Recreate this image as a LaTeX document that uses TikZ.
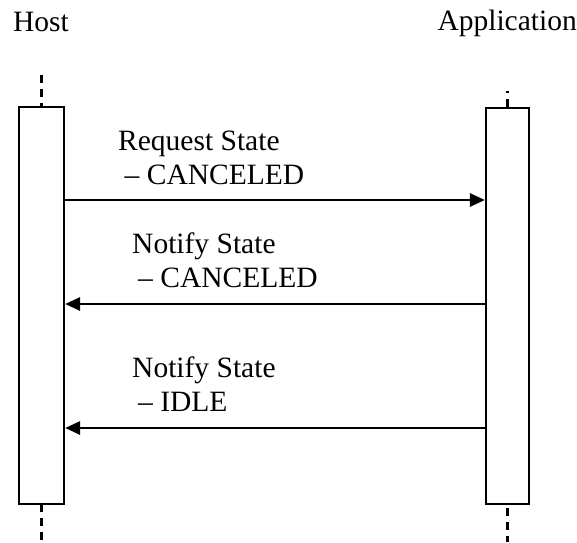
\documentclass[tikz,border=0pt]{standalone}
\usepackage{fontspec}
\setmainfont{Liberation Serif}
\usetikzlibrary{arrows.meta}
\begin{document}
\begin{tikzpicture}[x=1pt,y=-1pt,
  bar/.style={draw=black,line width=2.2pt,fill=white,inner sep=0pt},
  life/.style={line width=2.2pt,dash pattern=on 8pt off 6pt},
  msg/.style={line width=2.8pt,-{Triangle[length=15pt,width=13pt]}},
  lbl/.style={anchor=base west,inner sep=0pt,font=\fontsize{29.5}{34}\selectfont}]
\useasboundingbox (0,0) rectangle (577,542);
% headers
\node[lbl] (host) at (13,31) {Host};
\node[lbl,anchor=base east] (app) at (577,30) {Application};
% lifelines
\coordinate (htop) at (41.5,75);
\coordinate (hbot) at (41.5,542);
\coordinate (atop) at (507.5,91);
\coordinate (abot) at (507.5,542);
\draw[life] (htop) -- (41.5,107);
\draw[life,dash phase=6pt] (atop) -- (507.5,108);
\draw[life] (41.5,504) -- (hbot);
\draw[life,dash phase=10pt] (507.5,504) -- (abot);
% activation bars
\node[bar,minimum width=45pt,minimum height=397pt] (hbar) at (41.5,305.5) {};
\node[bar,minimum width=43pt,minimum height=396pt] (abar) at (507.5,306) {};
% messages
\draw[msg] (hbar.east |- 0,200) -- (abar.west |- 0,200);
\draw[msg] (abar.west |- 0,304) -- (hbar.east |- 0,304);
\draw[msg] (abar.west |- 0,428) -- (hbar.east |- 0,428);
% labels
\node[lbl] (l1a) at (118,150) {Request State};
\node[lbl] (l1b) at (124.5,184) {– CANCELED};
\node[lbl] (l2a) at (132,253) {Notify State};
\node[lbl] (l2b) at (138,287) {– CANCELED};
\node[lbl] (l3a) at (132,377) {Notify State};
\node[lbl] (l3b) at (138,411) {– IDLE};
\end{tikzpicture}
\end{document}
